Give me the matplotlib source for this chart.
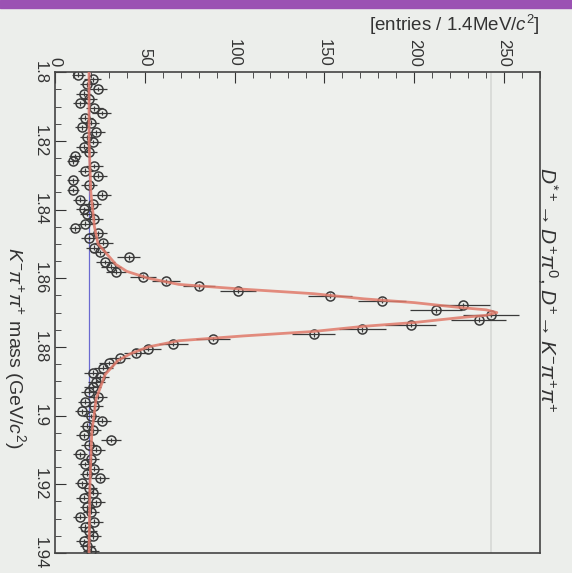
import numpy as np
import matplotlib
matplotlib.use("Agg")
import matplotlib.pyplot as plt
from matplotlib.patches import Rectangle
from matplotlib.ticker import MultipleLocator

plt.rcParams.update({
    "font.family": "Liberation Sans",
    "mathtext.fontset": "custom",
    "mathtext.rm": "Liberation Sans",
    "mathtext.it": "Liberation Sans:italic",
})

# K- pi+ pi+ invariant mass, 100 bins of 1.4 MeV from 1.80 to 1.94 GeV
bin_lo = 1.80
bin_width = 0.0014
counts = [
    13, 21, 18, 24, 16, 19, 14, 22, 26, 17,
    20, 15, 23, 18, 21, 16, 19, 11, 10, 22,
    17, 24, 10, 19, 10, 26, 14, 21, 16, 18,
    22, 17, 11, 24, 19, 27, 22, 25, 41, 28,
    31, 34, 49, 62, 80, 102, 153, 182, 227, 212,
    243, 236, 198, 171, 144, 88, 66, 52, 45, 36,
    30, 27, 21, 25, 23, 21, 19, 24, 17, 22,
    15, 20, 26, 18, 21, 16, 31, 19, 23, 14,
    20, 17, 22, 18, 25, 15, 19, 21, 16, 23,
    18, 20, 14, 22, 17, 19, 21, 16, 18, 20,
]

# fitted signal + background curve
fit_mass = [1.800, 1.820, 1.835, 1.845, 1.850, 1.856, 1.858, 1.860, 1.8618,
            1.8632, 1.8645, 1.8660, 1.8671, 1.8685, 1.8692, 1.8700, 1.8708,
            1.8715, 1.8729, 1.8740, 1.8755, 1.8768, 1.8782, 1.8800, 1.8820,
            1.8840, 1.8880, 1.8950, 1.9050, 1.9200, 1.9400]
fit_entries = [19, 19, 20, 22, 24, 34, 40, 52, 69,
               105, 144, 172, 200, 225, 240, 246, 240,
               225, 200, 172, 144, 105, 69, 52, 42,
               35, 28, 23, 20.5, 19.5, 19]
background_level = 19

counts = np.array(counts, dtype=float)
centers = bin_lo + bin_width * (np.arange(len(counts)) + 0.5)

fig = plt.figure(figsize=(5.72, 5.73), dpi=100, facecolor="#eceeeb")
fig.patches.append(Rectangle((0, 0.986), 1, 0.014, transform=fig.transFigure,
                             color="#9b52b3", zorder=0))

ax = fig.add_axes([0.096, 0.035, 0.848, 0.839], facecolor="#eef0ed")

# the plot is drawn turned on its side: entries run across, mass runs down
ax.axvline(242.5, color="#d6d9d6", lw=1.2, zorder=0)
ax.axvline(background_level, color="#6a6ad0", lw=0.9, zorder=1)
ax.errorbar(counts, centers, xerr=np.sqrt(counts), yerr=bin_width / 2,
            fmt="o", ms=6.5, mfc="none", mec="#3a3a3a", mew=1.1,
            ecolor="#3a3a3a", elinewidth=0.9, capsize=0, zorder=2)
ax.plot(fit_entries, fit_mass, color="#e07a6a", lw=2.0, alpha=0.85, zorder=3)

ax.set_xlim(0, 270)
ax.set_ylim(1.94, 1.80)

ax.xaxis.tick_top()
ax.xaxis.set_major_locator(MultipleLocator(50))
ax.xaxis.set_minor_locator(MultipleLocator(10))
ax.yaxis.set_major_locator(MultipleLocator(0.02))
ax.yaxis.set_minor_locator(MultipleLocator(0.005))
ax.tick_params(which="both", direction="in", colors="#333333", labelsize=12,
               top=True, bottom=False, left=True, right=False)
ax.tick_params(which="major", length=8)
ax.tick_params(which="minor", length=4)
ax.tick_params(axis="x", labelrotation=-90, pad=4)
ax.tick_params(axis="y", labelrotation=-90, pad=5)
ax.set_yticks(np.arange(1.80, 1.9401, 0.02))
ax.set_yticklabels(["1.8", "1.82", "1.84", "1.86", "1.88", "1.9", "1.92", "1.94"],
                   va="center")
for spine in ax.spines.values():
    spine.set_color("#444444")
    spine.set_linewidth(1.2)

fig.text(0.944, 0.956, r"[entries / 1.4MeV/$c^{2}$]", ha="right", va="center",
         fontsize=13.5, color="#333333")
fig.text(0.027, 0.393, r"$K^{-}\pi^{+}\pi^{+}$ mass (GeV/$c^{2}$)", rotation=-90,
         ha="center", va="center", fontsize=14, color="#333333")
fig.text(0.958, 0.494, r"$D^{*+}\!\rightarrow D^{+}\pi^{0}$, $D^{+}\!\rightarrow K^{-}\pi^{+}\pi^{+}$",
         rotation=-90, ha="center", va="center", fontsize=15, color="#333333")

fig.savefig("out.png", dpi=100, facecolor=fig.get_facecolor())
